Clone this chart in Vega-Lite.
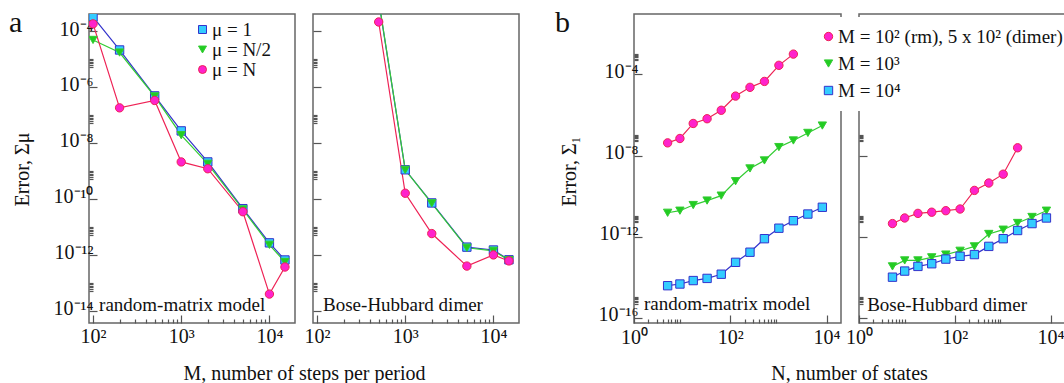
{
  "$schema": "https://vega.github.io/schema/vega-lite/v6.json",
  "background": "white",
  "padding": {"left": 8, "top": 7, "right": 0, "bottom": 0},
  "config": {
    "font": "Liberation Serif",
    "view": {"stroke": "#666", "strokeWidth": 1.5},
    "axis": {"grid": false, "domain": false, "labelFont": "Liberation Serif", "labelFontSize": 20, "labelColor": "#111", "titleFont": "Liberation Serif", "titleFontSize": 20, "titleFontWeight": "normal", "titleColor": "#111", "tickColor": "#555", "tickSize": -8, "tickWidth": 1.2, "labelPadding": 4, "labelFlush": false},
    "legend": {"labelFont": "Liberation Serif", "labelColor": "#111"}
  },
  "datasets": {
    "a_rm": [
      {"series": "μ = 1", "M": 100, "error": 3.2e-4}, {"series": "μ = 1", "M": 200, "error": 2.1e-5}, {"series": "μ = 1", "M": 500, "error": 4.8e-7}, {"series": "μ = 1", "M": 1000, "error": 2.7e-8}, {"series": "μ = 1", "M": 2000, "error": 2.1e-9}, {"series": "μ = 1", "M": 5000, "error": 4.5e-11}, {"series": "μ = 1", "M": 10000, "error": 2.7e-12}, {"series": "μ = 1", "M": 15000, "error": 6.6e-13},
      {"series": "μ = N/2", "M": 100, "error": 4.8e-5}, {"series": "μ = N/2", "M": 200, "error": 1.7e-5}, {"series": "μ = N/2", "M": 500, "error": 4.6e-7}, {"series": "μ = N/2", "M": 1000, "error": 1.9e-8}, {"series": "μ = N/2", "M": 2000, "error": 1.8e-9}, {"series": "μ = N/2", "M": 5000, "error": 4.2e-11}, {"series": "μ = N/2", "M": 10000, "error": 2.3e-12}, {"series": "μ = N/2", "M": 15000, "error": 5.6e-13},
      {"series": "μ = N", "M": 100, "error": 1.8e-4}, {"series": "μ = N", "M": 200, "error": 1.8e-7}, {"series": "μ = N", "M": 500, "error": 3.3e-7}, {"series": "μ = N", "M": 1000, "error": 2.1e-9}, {"series": "μ = N", "M": 2000, "error": 1.2e-9}, {"series": "μ = N", "M": 5000, "error": 3.5e-11}, {"series": "μ = N", "M": 10000, "error": 4e-14}, {"series": "μ = N", "M": 15000, "error": 3.7e-13}
    ],
    "a_bh": [
      {"series": "μ = 1", "M": 500, "error": 1.2e-3}, {"series": "μ = 1", "M": 1000, "error": 1.1e-9}, {"series": "μ = 1", "M": 2000, "error": 7.2e-11}, {"series": "μ = 1", "M": 5000, "error": 1.9e-12}, {"series": "μ = 1", "M": 10000, "error": 1.5e-12}, {"series": "μ = 1", "M": 15000, "error": 6.7e-13},
      {"series": "μ = N/2", "M": 500, "error": 1.3e-3}, {"series": "μ = N/2", "M": 1000, "error": 1.1e-9}, {"series": "μ = N/2", "M": 2000, "error": 7e-11}, {"series": "μ = N/2", "M": 5000, "error": 1.8e-12}, {"series": "μ = N/2", "M": 10000, "error": 1.4e-12}, {"series": "μ = N/2", "M": 15000, "error": 6.5e-13},
      {"series": "μ = N", "M": 500, "error": 2.1e-4}, {"series": "μ = N", "M": 1000, "error": 1.6e-10}, {"series": "μ = N", "M": 2000, "error": 5.8e-12}, {"series": "μ = N", "M": 5000, "error": 4e-13}, {"series": "μ = N", "M": 10000, "error": 1e-12}, {"series": "μ = N", "M": 15000, "error": 6.1e-13}
    ],
    "b_rm": [
      {"series": "M = 10² (rm), 5 x 10² (dimer)", "N": 5, "error": 4.2e-8}, {"series": "M = 10² (rm), 5 x 10² (dimer)", "N": 9, "error": 6.9e-8}, {"series": "M = 10² (rm), 5 x 10² (dimer)", "N": 17, "error": 3.8e-7}, {"series": "M = 10² (rm), 5 x 10² (dimer)", "N": 33, "error": 6.5e-7}, {"series": "M = 10² (rm), 5 x 10² (dimer)", "N": 65, "error": 1.7e-6}, {"series": "M = 10² (rm), 5 x 10² (dimer)", "N": 129, "error": 8.5e-6}, {"series": "M = 10² (rm), 5 x 10² (dimer)", "N": 257, "error": 2.3e-5}, {"series": "M = 10² (rm), 5 x 10² (dimer)", "N": 513, "error": 4.5e-5}, {"series": "M = 10² (rm), 5 x 10² (dimer)", "N": 1025, "error": 2.8e-4}, {"series": "M = 10² (rm), 5 x 10² (dimer)", "N": 2049, "error": 1.0e-3},
      {"series": "M = 10³", "N": 5, "error": 1.5e-11}, {"series": "M = 10³", "N": 9, "error": 1.9e-11}, {"series": "M = 10³", "N": 17, "error": 3.6e-11}, {"series": "M = 10³", "N": 33, "error": 6e-11}, {"series": "M = 10³", "N": 65, "error": 1.05e-10}, {"series": "M = 10³", "N": 129, "error": 5.4e-10}, {"series": "M = 10³", "N": 257, "error": 2.3e-9}, {"series": "M = 10³", "N": 513, "error": 5.7e-9}, {"series": "M = 10³", "N": 1025, "error": 2.6e-8}, {"series": "M = 10³", "N": 2049, "error": 5.5e-8}, {"series": "M = 10³", "N": 4097, "error": 1.3e-7}, {"series": "M = 10³", "N": 8193, "error": 3e-7},
      {"series": "M = 10⁴", "N": 5, "error": 3.8e-15}, {"series": "M = 10⁴", "N": 9, "error": 4.6e-15}, {"series": "M = 10⁴", "N": 17, "error": 6.8e-15}, {"series": "M = 10⁴", "N": 33, "error": 8.7e-15}, {"series": "M = 10⁴", "N": 65, "error": 1.4e-14}, {"series": "M = 10⁴", "N": 129, "error": 5.4e-14}, {"series": "M = 10⁴", "N": 257, "error": 1.7e-13}, {"series": "M = 10⁴", "N": 513, "error": 7.9e-13}, {"series": "M = 10⁴", "N": 1025, "error": 2.6e-12}, {"series": "M = 10⁴", "N": 2049, "error": 6.1e-12}, {"series": "M = 10⁴", "N": 4097, "error": 1.3e-11}, {"series": "M = 10⁴", "N": 8193, "error": 2.8e-11}
    ],
    "b_bh": [
      {"series": "M = 10² (rm), 5 x 10² (dimer)", "N": 5, "error": 4.4e-12}, {"series": "M = 10² (rm), 5 x 10² (dimer)", "N": 9, "error": 8.3e-12}, {"series": "M = 10² (rm), 5 x 10² (dimer)", "N": 17, "error": 1.4e-11}, {"series": "M = 10² (rm), 5 x 10² (dimer)", "N": 33, "error": 1.6e-11}, {"series": "M = 10² (rm), 5 x 10² (dimer)", "N": 65, "error": 1.9e-11}, {"series": "M = 10² (rm), 5 x 10² (dimer)", "N": 129, "error": 2.3e-11}, {"series": "M = 10² (rm), 5 x 10² (dimer)", "N": 257, "error": 1.9e-10}, {"series": "M = 10² (rm), 5 x 10² (dimer)", "N": 513, "error": 4.4e-10}, {"series": "M = 10² (rm), 5 x 10² (dimer)", "N": 1025, "error": 1.2e-9}, {"series": "M = 10² (rm), 5 x 10² (dimer)", "N": 2049, "error": 2.4e-8},
      {"series": "M = 10³", "N": 5, "error": 3.4e-14}, {"series": "M = 10³", "N": 9, "error": 6.7e-14}, {"series": "M = 10³", "N": 17, "error": 6.7e-14}, {"series": "M = 10³", "N": 33, "error": 9.5e-14}, {"series": "M = 10³", "N": 65, "error": 1.3e-13}, {"series": "M = 10³", "N": 129, "error": 2e-13}, {"series": "M = 10³", "N": 257, "error": 3.3e-13}, {"series": "M = 10³", "N": 513, "error": 1.35e-12}, {"series": "M = 10³", "N": 1025, "error": 2.2e-12}, {"series": "M = 10³", "N": 2049, "error": 4.7e-12}, {"series": "M = 10³", "N": 4097, "error": 9.3e-12}, {"series": "M = 10³", "N": 8193, "error": 1.9e-11},
      {"series": "M = 10⁴", "N": 5, "error": 1e-14}, {"series": "M = 10⁴", "N": 9, "error": 2e-14}, {"series": "M = 10⁴", "N": 17, "error": 3.4e-14}, {"series": "M = 10⁴", "N": 33, "error": 4.6e-14}, {"series": "M = 10⁴", "N": 65, "error": 7.8e-14}, {"series": "M = 10⁴", "N": 129, "error": 1.07e-13}, {"series": "M = 10⁴", "N": 257, "error": 1.3e-13}, {"series": "M = 10⁴", "N": 513, "error": 3.3e-13}, {"series": "M = 10⁴", "N": 1025, "error": 7.9e-13}, {"series": "M = 10⁴", "N": 2049, "error": 2e-12}, {"series": "M = 10⁴", "N": 4097, "error": 4.4e-12}, {"series": "M = 10⁴", "N": 8193, "error": 8.3e-12}
    ]
  },
  "spacing": 34,
  "resolve": {"scale": {"fill": "independent", "stroke": "independent", "shape": "independent"}, "legend": {"fill": "independent", "stroke": "independent", "shape": "independent"}},
  "hconcat": [
    {
      "bounds": "flush",
      "spacing": 18,
      "resolve": {"scale": {"fill": "independent", "stroke": "independent", "shape": "independent"}, "legend": {"fill": "independent", "stroke": "independent", "shape": "independent"}},
      "hconcat": [
        {
          "width": 206, "height": 309,
          "title": {"text": "a", "anchor": "start", "frame": "group", "orient": "top", "fontSize": 30, "fontWeight": "normal", "font": "Liberation Serif", "color": "#111", "dx": -80, "offset": -24},
          "data": {"name": "a_rm"},
          "resolve": {"axis": {"x": "independent", "y": "independent"}},
          "layer": [
            {
              "mark": {"type": "line", "clip": true, "strokeWidth": 1.2},
              "encoding": {
                "x": {"field": "M", "type": "quantitative", "scale": {"type": "log", "domain": [90, 19500], "nice": false},
                      "axis": {"values": [100, 1000, 10000], "labelPadding": 11, "labelExpr": "['10⁰','10¹','10²','10³','10⁴'][round(log(datum.value)/LN10)]", "title": "M, number of steps per period", "titleX": 215, "titleY": 50, "titleBaseline": "middle", "titleAlign": "center"}},
                "y": {"field": "error", "type": "quantitative", "scale": {"type": "log", "domain": [3.7e-15, 4.05e-4], "nice": false},
                      "axis": {"values": [1e-14, 1e-12, 1e-10, 1e-8, 1e-6, 1e-4], "labelOffset": -2, "labelExpr": "['10⁻¹⁶','10⁻¹⁵','10⁻¹⁴','10⁻¹³','10⁻¹²','10⁻¹¹','10⁻¹⁰','10⁻⁹','10⁻⁸','10⁻⁷','10⁻⁶','10⁻⁵','10⁻⁴','10⁻³'][round(log(datum.value)/LN10)+16]", "title": "Error, Σμ", "titleX": -67, "titleY": 155, "titleBaseline": "middle", "titleAlign": "center", "titleAngle": -90}},
                "stroke": {"field": "series", "type": "nominal", "scale": {"domain": ["μ = 1", "μ = N/2", "μ = N"], "range": ["#3333cc", "#33cc33", "#ee2255"]},
                         "legend": {"title": null, "orient": "none", "legendX": 104, "legendY": 6, "padding": 0, "labelFont": "Liberation Serif", "labelFontSize": 19, "labelOffset": 0, "rowPadding": -6, "symbolSize": 64, "symbolStrokeWidth": 1, "labelLimit": 300}}
              }
            },
            {
              "mark": {"type": "point", "filled": true, "clip": true, "size": 70, "strokeWidth": 1, "opacity": 1},
              "encoding": {
                "x": {"field": "M", "type": "quantitative", "axis": null},
                "y": {"field": "error", "type": "quantitative", "axis": null},
                "fill": {"field": "series", "type": "nominal", "scale": {"domain": ["μ = 1", "μ = N/2", "μ = N"], "range": ["#33ccff", "#22cc22", "#ff22cc"]},
                         "legend": {"title": null, "orient": "none", "legendX": 104, "legendY": 6, "padding": 0, "labelFont": "Liberation Serif", "labelFontSize": 19, "labelOffset": 0, "rowPadding": -6, "symbolSize": 64, "symbolStrokeWidth": 1, "labelLimit": 300}},
                "stroke": {"field": "series", "type": "nominal",
                         "legend": {"title": null, "orient": "none", "legendX": 104, "legendY": 6, "padding": 0, "labelFont": "Liberation Serif", "labelFontSize": 19, "labelOffset": 0, "rowPadding": -6, "symbolSize": 64, "symbolStrokeWidth": 1, "labelLimit": 300}},
                "shape": {"field": "series", "type": "nominal", "scale": {"domain": ["μ = 1", "μ = N/2", "μ = N"], "range": ["square", "triangle-down", "circle"]},
                         "legend": {"title": null, "orient": "none", "legendX": 104, "legendY": 6, "padding": 0, "labelFont": "Liberation Serif", "labelFontSize": 19, "labelOffset": 0, "rowPadding": -6, "symbolSize": 64, "symbolStrokeWidth": 1, "labelLimit": 300}}
              }
            },
            {
              "mark": {"type": "point", "opacity": 0, "clip": true},
              "encoding": {
                "x": {"field": "M", "type": "quantitative", "axis": {"orient": "bottom", "values": [200, 300, 400, 500, 600, 700, 800, 900, 2000, 3000, 4000, 5000, 6000, 7000, 8000, 9000], "labels": false, "title": null, "tickSize": -4}},
                "y": {"field": "error", "type": "quantitative", "axis": {"orient": "left", "values": [5e-14, 6e-14, 7e-14, 8e-14, 9e-14, 1e-13, 5e-12, 6e-12, 7e-12, 8e-12, 9e-12, 1e-11, 5e-10, 6e-10, 7e-10, 8e-10, 9e-10, 1e-9, 5e-8, 6e-8, 7e-8, 8e-8, 9e-8, 1e-7, 5e-6, 6e-6, 7e-6, 8e-6, 9e-6, 1e-5], "labels": false, "title": null, "tickSize": -4}}
              }
            },
            {
              "data": {"values": [{}]},
              "mark": {"type": "text", "align": "left", "baseline": "middle", "fontSize": 19, "font": "Liberation Serif", "color": "#111", "text": "random-matrix model"},
              "encoding": {"x": {"datum": 117, "type": "quantitative", "axis": null}, "y": {"datum": 1.6e-14, "type": "quantitative", "axis": null}}
            }
          ]
        },
        {
          "width": 206, "height": 309,
          "data": {"name": "a_bh"},
          "resolve": {"axis": {"x": "independent", "y": "independent"}},
          "layer": [
            {
              "mark": {"type": "line", "clip": true, "strokeWidth": 1.2},
              "encoding": {
                "x": {"field": "M", "type": "quantitative", "scale": {"type": "log", "domain": [90, 19500], "nice": false},
                      "axis": {"values": [100, 1000, 10000], "labelPadding": 11, "labelExpr": "['10⁰','10¹','10²','10³','10⁴'][round(log(datum.value)/LN10)]", "title": null}},
                "y": {"field": "error", "type": "quantitative", "scale": {"type": "log", "domain": [3.7e-15, 4.05e-4], "nice": false},
                      "axis": {"values": [1e-14, 1e-12, 1e-10, 1e-8, 1e-6, 1e-4], "labels": false, "title": null}},
                "stroke": {"field": "series", "type": "nominal", "scale": {"domain": ["μ = 1", "μ = N/2", "μ = N"], "range": ["#3333cc", "#33cc33", "#ee2255"]}, "legend": null}
              }
            },
            {
              "mark": {"type": "point", "filled": true, "clip": true, "size": 70, "strokeWidth": 1, "opacity": 1},
              "encoding": {
                "x": {"field": "M", "type": "quantitative", "axis": null},
                "y": {"field": "error", "type": "quantitative", "axis": null},
                "fill": {"field": "series", "type": "nominal", "scale": {"domain": ["μ = 1", "μ = N/2", "μ = N"], "range": ["#33ccff", "#22cc22", "#ff22cc"]}, "legend": null},
                "stroke": {"field": "series", "type": "nominal", "legend": null},
                "shape": {"field": "series", "type": "nominal", "scale": {"domain": ["μ = 1", "μ = N/2", "μ = N"], "range": ["square", "triangle-down", "circle"]}, "legend": null}
              }
            },
            {
              "mark": {"type": "point", "opacity": 0, "clip": true},
              "encoding": {
                "x": {"field": "M", "type": "quantitative", "axis": {"orient": "bottom", "values": [200, 300, 400, 500, 600, 700, 800, 900, 2000, 3000, 4000, 5000, 6000, 7000, 8000, 9000], "labels": false, "title": null, "tickSize": -4}},
                "y": {"field": "error", "type": "quantitative", "axis": {"orient": "left", "values": [5e-14, 6e-14, 7e-14, 8e-14, 9e-14, 1e-13, 5e-12, 6e-12, 7e-12, 8e-12, 9e-12, 1e-11, 5e-10, 6e-10, 7e-10, 8e-10, 9e-10, 1e-9, 5e-8, 6e-8, 7e-8, 8e-8, 9e-8, 1e-7, 5e-6, 6e-6, 7e-6, 8e-6, 9e-6, 1e-5], "labels": false, "title": null, "tickSize": -4}}
              }
            },
            {
              "data": {"values": [{}]},
              "mark": {"type": "text", "align": "left", "baseline": "middle", "fontSize": 19, "font": "Liberation Serif", "color": "#111", "text": "Bose-Hubbard dimer"},
              "encoding": {"x": {"datum": 117, "type": "quantitative", "axis": null}, "y": {"datum": 1.6e-14, "type": "quantitative", "axis": null}}
            }
          ]
        }
      ]
    },
    {
      "bounds": "flush",
      "spacing": 18,
      "resolve": {"scale": {"fill": "independent", "stroke": "independent", "shape": "independent"}, "legend": {"fill": "independent", "stroke": "independent", "shape": "independent"}},
      "hconcat": [
        {
          "width": 207, "height": 309,
          "title": {"text": "b", "anchor": "start", "frame": "group", "orient": "top", "fontSize": 30, "fontWeight": "normal", "font": "Liberation Serif", "color": "#111", "dx": -79, "offset": -24},
          "data": {"name": "b_rm"},
          "resolve": {"axis": {"x": "independent", "y": "independent"}},
          "layer": [
            {
              "mark": {"type": "line", "clip": true, "strokeWidth": 1.2},
              "encoding": {
                "x": {"field": "N", "type": "quantitative", "scale": {"type": "log", "domain": [1, 20000], "nice": false},
                      "axis": {"values": [1, 100, 10000], "labelPadding": 12, "labelExpr": "['10⁰','10¹','10²','10³','10⁴'][round(log(datum.value)/LN10)]", "title": "N, number of states", "titleX": 215, "titleY": 50, "titleBaseline": "middle", "titleAlign": "center"}},
                "y": {"field": "error", "type": "quantitative", "scale": {"type": "log", "domain": [5.5e-17, 9.5e-2], "nice": false},
                      "axis": {"values": [1e-16, 1e-12, 1e-8, 1e-4], "labelOffset": -3, "labelExpr": "['10⁻¹⁶','10⁻¹⁵','10⁻¹⁴','10⁻¹³','10⁻¹²','10⁻¹¹','10⁻¹⁰','10⁻⁹','10⁻⁸','10⁻⁷','10⁻⁶','10⁻⁵','10⁻⁴','10⁻³'][round(log(datum.value)/LN10)+16]", "title": "Error, Σ₁", "titleX": -65, "titleY": 157, "titleBaseline": "middle", "titleAlign": "center", "titleAngle": -90}},
                "stroke": {"field": "series", "type": "nominal", "scale": {"domain": ["M = 10² (rm), 5 x 10² (dimer)", "M = 10³", "M = 10⁴"], "range": ["#ee2255", "#33cc33", "#3333cc"]}, "legend": null}
              }
            },
            {
              "mark": {"type": "point", "filled": true, "clip": true, "size": 70, "strokeWidth": 1, "opacity": 1},
              "encoding": {
                "x": {"field": "N", "type": "quantitative", "axis": null},
                "y": {"field": "error", "type": "quantitative", "axis": null},
                "fill": {"field": "series", "type": "nominal", "scale": {"domain": ["M = 10² (rm), 5 x 10² (dimer)", "M = 10³", "M = 10⁴"], "range": ["#ff22cc", "#22cc22", "#33ccff"]}, "legend": null},
                "stroke": {"field": "series", "type": "nominal", "legend": null},
                "shape": {"field": "series", "type": "nominal", "scale": {"domain": ["M = 10² (rm), 5 x 10² (dimer)", "M = 10³", "M = 10⁴"], "range": ["circle", "triangle-down", "square"]}, "legend": null}
              }
            },
            {
              "mark": {"type": "point", "opacity": 0, "clip": true},
              "encoding": {
                "x": {"field": "N", "type": "quantitative", "axis": {"orient": "bottom", "values": [2, 3, 4, 5, 6, 7, 8, 9, 200, 300, 400, 500, 600, 700, 800, 900], "labels": false, "title": null, "tickSize": -4}},
                "y": {"field": "error", "type": "quantitative", "axis": {"orient": "left", "values": [5e-16, 6e-16, 7e-16, 8e-16, 9e-16, 1e-15, 5e-12, 6e-12, 7e-12, 8e-12, 9e-12, 1e-11, 5e-8, 6e-8, 7e-8, 8e-8, 9e-8, 1e-7, 5e-4, 6e-4, 7e-4, 8e-4, 9e-4, 1e-3], "labels": false, "title": null, "tickSize": -4}}
              }
            },
            {
              "data": {"values": [{}]},
              "mark": {"type": "text", "align": "left", "baseline": "middle", "fontSize": 19, "font": "Liberation Serif", "color": "#111", "text": "random-matrix model"},
              "encoding": {"x": {"datum": 1.61, "type": "quantitative", "axis": null}, "y": {"datum": 4.6e-16, "type": "quantitative", "axis": null}}
            }
          ]
        },
        {
          "width": 206, "height": 309,
          "data": {"name": "b_bh"},
          "resolve": {"axis": {"x": "independent", "y": "independent"}},
          "layer": [
            {
              "mark": {"type": "line", "clip": true, "strokeWidth": 1.2},
              "encoding": {
                "x": {"field": "N", "type": "quantitative", "scale": {"type": "log", "domain": [1, 20000], "nice": false},
                      "axis": {"values": [1, 100, 10000], "labelPadding": 12, "labelExpr": "['10⁰','10¹','10²','10³','10⁴'][round(log(datum.value)/LN10)]", "title": null}},
                "y": {"field": "error", "type": "quantitative", "scale": {"type": "log", "domain": [5.5e-17, 9.5e-2], "nice": false},
                      "axis": {"values": [1e-16, 1e-12, 1e-8, 1e-4], "labels": false, "title": null}},
                "stroke": {"field": "series", "type": "nominal", "scale": {"domain": ["M = 10² (rm), 5 x 10² (dimer)", "M = 10³", "M = 10⁴"], "range": ["#ee2255", "#33cc33", "#3333cc"]},
                         "legend": {"title": null, "orient": "none", "legendX": -50, "legendY": 3, "padding": 10, "fillColor": "white", "labelFont": "Liberation Serif", "labelFontSize": 19, "labelOffset": 0, "rowPadding": 7, "symbolSize": 70, "symbolStrokeWidth": 1, "labelLimit": 400}}
              }
            },
            {
              "mark": {"type": "point", "filled": true, "clip": true, "size": 70, "strokeWidth": 1, "opacity": 1},
              "encoding": {
                "x": {"field": "N", "type": "quantitative", "axis": null},
                "y": {"field": "error", "type": "quantitative", "axis": null},
                "fill": {"field": "series", "type": "nominal", "scale": {"domain": ["M = 10² (rm), 5 x 10² (dimer)", "M = 10³", "M = 10⁴"], "range": ["#ff22cc", "#22cc22", "#33ccff"]},
                         "legend": {"title": null, "orient": "none", "legendX": -50, "legendY": 3, "padding": 10, "fillColor": "white", "labelFont": "Liberation Serif", "labelFontSize": 19, "labelOffset": 0, "rowPadding": 7, "symbolSize": 70, "symbolStrokeWidth": 1, "labelLimit": 400}},
                "stroke": {"field": "series", "type": "nominal",
                         "legend": {"title": null, "orient": "none", "legendX": -50, "legendY": 3, "padding": 10, "fillColor": "white", "labelFont": "Liberation Serif", "labelFontSize": 19, "labelOffset": 0, "rowPadding": 7, "symbolSize": 70, "symbolStrokeWidth": 1, "labelLimit": 400}},
                "shape": {"field": "series", "type": "nominal", "scale": {"domain": ["M = 10² (rm), 5 x 10² (dimer)", "M = 10³", "M = 10⁴"], "range": ["circle", "triangle-down", "square"]},
                         "legend": {"title": null, "orient": "none", "legendX": -50, "legendY": 3, "padding": 10, "fillColor": "white", "labelFont": "Liberation Serif", "labelFontSize": 19, "labelOffset": 0, "rowPadding": 7, "symbolSize": 70, "symbolStrokeWidth": 1, "labelLimit": 400}}
              }
            },
            {
              "mark": {"type": "point", "opacity": 0, "clip": true},
              "encoding": {
                "x": {"field": "N", "type": "quantitative", "axis": {"orient": "bottom", "values": [2, 3, 4, 5, 6, 7, 8, 9, 200, 300, 400, 500, 600, 700, 800, 900], "labels": false, "title": null, "tickSize": -4}},
                "y": {"field": "error", "type": "quantitative", "axis": {"orient": "left", "values": [5e-16, 6e-16, 7e-16, 8e-16, 9e-16, 1e-15, 5e-12, 6e-12, 7e-12, 8e-12, 9e-12, 1e-11, 5e-8, 6e-8, 7e-8, 8e-8, 9e-8, 1e-7, 5e-4, 6e-4, 7e-4, 8e-4, 9e-4, 1e-3], "labels": false, "title": null, "tickSize": -4}}
              }
            },
            {
              "data": {"values": [{}]},
              "mark": {"type": "text", "align": "left", "baseline": "middle", "fontSize": 19, "font": "Liberation Serif", "color": "#111", "text": "Bose-Hubbard dimer"},
              "encoding": {"x": {"datum": 1.48, "type": "quantitative", "axis": null}, "y": {"datum": 4.2e-16, "type": "quantitative", "axis": null}}
            }
          ]
        }
      ]
    }
  ]
}
